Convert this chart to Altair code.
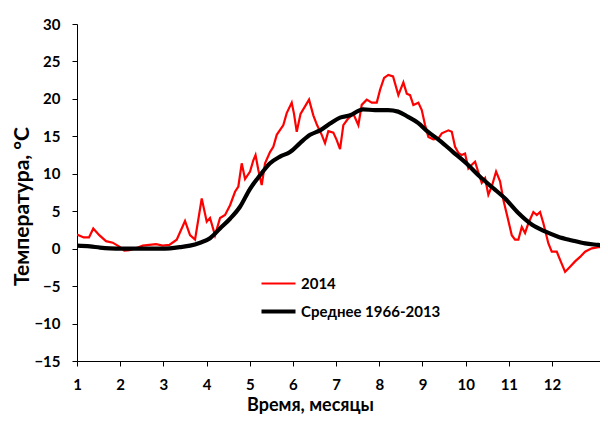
import altair as alt
import pandas as pd

# 2014 series (x in months, temperature in °C)
red_x = [1.000, 1.155, 1.278, 1.377, 1.516, 1.672, 1.827, 1.980, 2.095, 2.211,
         2.366, 2.522, 2.674, 2.830, 2.985, 3.138, 3.309, 3.501, 3.617, 3.733,
         3.888, 4.004, 4.080, 4.196, 4.312, 4.428, 4.544, 4.659, 4.736, 4.814,
         4.891, 5.007, 5.083, 5.134, 5.199, 5.277, 5.354, 5.469, 5.546, 5.625,
         5.778, 5.856, 5.972, 6.025, 6.088, 6.176, 6.280, 6.373, 6.472, 6.558,
         6.667, 6.743, 6.820, 6.936, 7.014, 7.091, 7.167, 7.283, 7.399, 7.515,
         7.593, 7.709, 7.825, 7.941, 8.017, 8.110, 8.209, 8.318, 8.441, 8.557,
         8.636, 8.712, 8.788, 8.904, 8.983, 9.059, 9.136, 9.251, 9.367, 9.446,
         9.599, 9.678, 9.754, 9.830, 9.909, 9.985, 10.062, 10.141, 10.217, 10.293,
         10.372, 10.449, 10.525, 10.604, 10.704, 10.796, 10.873, 10.965, 11.067, 11.143,
         11.220, 11.299, 11.375, 11.452, 11.567, 11.646, 11.722, 11.799, 11.915, 11.993,
         12.109, 12.186, 12.302, 12.417, 12.533, 12.649, 12.765, 12.920, 13.073, 13.251]
red_t = [1.9, 1.5, 1.5, 2.7, 1.8, 1.0, 0.8, 0.27, -0.27, -0.2,
         0.05, 0.4, 0.5, 0.6, 0.4, 0.5, 1.2, 3.7, 1.8, 1.2,
         6.7, 3.6, 4.1, 1.8, 4.1, 4.5, 5.8, 7.6, 8.3, 11.4,
         9.3, 10.3, 11.8, 12.5, 10.5, 8.5, 11.4, 12.9, 13.6, 15.2,
         16.5, 18.1, 19.5, 18.0, 15.6, 18.0, 19.0, 19.9, 17.8, 16.5,
         15.2, 14.1, 15.7, 15.5, 14.5, 13.3, 16.5, 17.4, 18.0, 16.5,
         19.2, 19.9, 19.5, 19.5, 21.2, 22.8, 23.2, 23.0, 20.5, 22.2,
         20.7, 20.5, 19.2, 19.5, 18.5, 16.5, 14.9, 14.6, 14.7, 15.4,
         15.8, 15.6, 13.6, 12.8, 12.5, 12.7, 10.7, 11.2, 11.6, 10.2,
         8.8, 9.4, 7.2, 8.3, 10.3, 9.0, 6.5, 4.3, 1.8, 1.2,
         1.2, 2.9, 2.1, 3.4, 4.9, 4.5, 4.9, 3.4, 0.7, -0.4,
         -0.4, -1.5, -3.1, -2.4, -1.7, -1.1, -0.4, 0.05, 0.2, 0.25]

# Average 1966-2013 series
avg_x = [1.000, 1.301, 1.533, 1.764, 1.996, 2.459, 2.922, 3.154, 3.385, 3.617,
         3.849, 4.080, 4.312, 4.544, 4.775, 5.007, 5.238, 5.470, 5.701, 5.933,
         6.164, 6.396, 6.628, 6.859, 7.091, 7.322, 7.623, 7.901, 8.202, 8.434,
         8.666, 8.897, 9.106, 9.407, 9.708, 10.032, 10.333, 10.634, 10.912, 11.213,
         11.537, 11.838, 12.139, 12.464, 12.765, 13.066, 13.297]
avg_t = [0.4, 0.3, 0.15, 0.05, 0.0, 0.0, 0.0, 0.05, 0.2, 0.4,
         0.8, 1.4, 2.7, 4.0, 5.6, 8.0, 9.8, 11.4, 12.3, 12.9,
         14.1, 15.2, 15.8, 16.7, 17.5, 17.8, 18.6, 18.5, 18.5, 18.3,
         17.6, 16.8, 15.7, 14.4, 12.9, 11.3, 9.6, 8.1, 6.7, 4.8,
         3.2, 2.3, 1.6, 1.1, 0.7, 0.5, 0.35]

series_names = ["2014", "Среднее 1966-2013"]
series_colors = ["#ff0000", "#000000"]
series_widths = [2.2, 4.2]
month_ticks = list(range(1, 13))
y_ticks = list(range(-15, 31, 5))

FONT = "Lato"

df_red = pd.DataFrame({"x": red_x, "t": red_t, "series": series_names[0]})
df_avg = pd.DataFrame({"x": avg_x, "t": avg_t, "series": series_names[1]})

x_enc = alt.X(
    "x:Q",
    scale=alt.Scale(domain=[1, 13.11], nice=False, zero=False),
    axis=alt.Axis(
        values=month_ticks, format="d", title="Время, месяцы",
        tickSize=5, labelPadding=23, labelBaseline="alphabetic",
        titleX=233, titleY=49, titleBaseline="alphabetic", titleAlign="center",
        titleFontSize=18, labelFlush=False,
    ),
)
y_enc = alt.Y(
    "t:Q",
    scale=alt.Scale(domain=[-15, 30], nice=False, zero=False),
    axis=alt.Axis(
        values=y_ticks, title="Температура, °C", tickSize=5, labelPadding=12,
        titleX=-55, titleY=182, titleAngle=270, titleAlign="center",
        titleBaseline="middle", titleFontSize=21,
    ),
)
color_enc = alt.Color(
    "series:N",
    scale=alt.Scale(domain=series_names, range=series_colors),
    legend=alt.Legend(
        title=None, orient="none", legendX=182, legendY=241,
        symbolType="stroke", symbolSize=1156, labelFont=FONT,
        labelFontWeight="bold", labelFontSize=15, labelColor="#000000",
        labelOffset=3, rowPadding=-8, padding=0,
    ),
)
width_enc = alt.StrokeWidth(
    "series:O",
    scale=alt.Scale(domain=series_names, range=series_widths),
    legend=None,
)

red_line = alt.Chart(df_red).mark_line(clip=True, interpolate="linear").encode(
    x=x_enc, y=y_enc, color=color_enc, strokeWidth=width_enc, order="x:Q"
)
avg_line = alt.Chart(df_avg).mark_line(clip=True, interpolate="monotone").encode(
    x=x_enc, y=y_enc, color=color_enc, strokeWidth=width_enc, order="x:Q"
)

chart = alt.layer(red_line, avg_line).properties(
    width=523, height=337,
    padding={"left": 69, "top": 16, "right": 0, "bottom": 53},
    autosize=alt.AutoSizeParams(type="none"),
    background="#ffffff",
).configure_view(stroke=None).configure_axis(
    grid=False, domainColor="#000000", tickColor="#000000",
    labelColor="#000000", titleColor="#000000",
    labelFont=FONT, labelFontWeight="bold", labelFontSize=15,
    titleFont=FONT, titleFontWeight="bold", titleFontSize=20,
    domainWidth=1, tickWidth=1,
)

chart.save("out.html", embed_options={"renderer": "svg", "actions": False})
